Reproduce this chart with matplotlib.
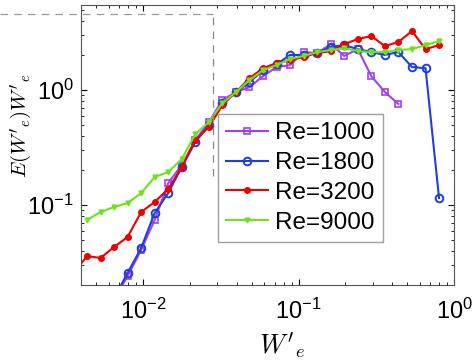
import matplotlib

matplotlib.use("Agg")
import matplotlib.pyplot as plt

# bin centres of W'_e (log spaced)
w_bins = [0.00357, 0.00436, 0.00532, 0.00650, 0.00794, 0.00971, 0.01186, 0.01449,
          0.01772, 0.02166, 0.02648, 0.03236, 0.03954, 0.04831, 0.05904, 0.07215,
          0.0882, 0.1077, 0.1316, 0.1609, 0.1966, 0.2403, 0.2936, 0.3589, 0.4385,
          0.5358, 0.6548, 0.800]

re1000 = [0.0149, 0.0241, 0.0406, 0.0741, 0.155, 0.223, 0.367, 0.527, 0.819, 0.961,
          1.06, 1.32, 1.585, 1.65, 2.14, 2.10, 2.51, 1.98, 2.27, 1.32, 0.961, 0.756]
re1800 = [0.0155, 0.0256, 0.0423, 0.0852, 0.127, 0.214, 0.353, 0.496, 0.771, 0.961,
          1.17, 1.49, 1.68, 2.02, 2.02, 2.10, 2.37, 2.46, 2.27, 2.14, 2.02, 2.14,
          1.585, 1.55, 0.115]
re3200 = [0.0256, 0.0360, 0.0346, 0.0431, 0.0527, 0.0869, 0.1062, 0.1378, 0.214,
          0.367, 0.477, 0.740, 0.961, 1.27, 1.55, 1.72, 1.82, 1.94, 2.10, 2.18, 2.51,
          2.78, 2.95, 2.41, 2.62, 3.26, 2.27, 2.46]
re9000 = [0.0741, 0.0869, 0.0961, 0.104, 0.127, 0.175, 0.1936, 0.251, 0.414, 0.527,
          0.771, 0.961, 1.22, 1.49, 1.65, 1.86, 1.98, 2.14, 2.23, 2.32, 2.18, 2.14,
          2.14, 2.23, 2.27, 2.46, 2.67]

plt.rcParams["font.family"] = ["Liberation Sans", "DejaVu Sans"]
plt.rcParams["mathtext.fontset"] = "cm"

fig = plt.figure(figsize=(4.76, 3.6), dpi=100)
ax = fig.add_axes([0.170, 0.208, 0.784, 0.778])

ax.plot(w_bins[3:25], re1000, color="#a040f0", marker="s", markersize=5,
        markerfacecolor="none", markeredgewidth=1.2, linewidth=1.5, label="Re=1000")
ax.plot(w_bins[3:28], re1800, color="#1f3fdc", marker="o", markersize=5.5,
        markerfacecolor="none", markeredgewidth=1.4, linewidth=1.5, label="Re=1800")
ax.plot(w_bins[0:28], re3200, color="#ee0000", marker="o", markersize=4,
        linewidth=1.5, label="Re=3200")
ax.plot(w_bins[1:28], re9000, color="#6ee31c", marker="v", markersize=3.5,
        linewidth=1.5, label="Re=9000")

ax.set_xscale("log")
ax.set_yscale("log")
ax.set_xlim(0.00398, 1.0)
ax.set_ylim(0.0201, 5.49)

# dashed zoom-box remnant
ax.axvline(0.0283, ymin=0.39, ymax=0.968, color="#888888", linestyle=(0, (6, 5)),
           linewidth=0.9)
ax.axhline(4.58, xmin=-0.218, xmax=0.355, color="#999999", linestyle=(0, (6, 5)),
           linewidth=0.9, clip_on=False)

ax.tick_params(which="both", direction="in", top=True, right=True, labelsize=17)
ax.tick_params(axis="x", pad=10)
ax.tick_params(axis="y", pad=5)
ax.tick_params(which="major", length=4)
ax.tick_params(which="minor", length=2)
for side in ax.spines.values():
    side.set_color("#555555")

ax.set_xlabel(r"$W'_e$", fontsize=19)
ax.xaxis.set_label_coords(0.54, -0.165)
ax.set_ylabel(r"$E(W'_e)W'_e$", fontsize=15)
ax.yaxis.set_label_coords(-0.127, 0.57)

ax.legend(loc="lower right", bbox_to_anchor=(0.842, 0.11), fontsize=17.5,
          frameon=True, fancybox=False, edgecolor="#888888", handlelength=1.7,
          handletextpad=0.3, labelspacing=0.32, borderpad=0.35)

fig.savefig("out.png", dpi=100)
